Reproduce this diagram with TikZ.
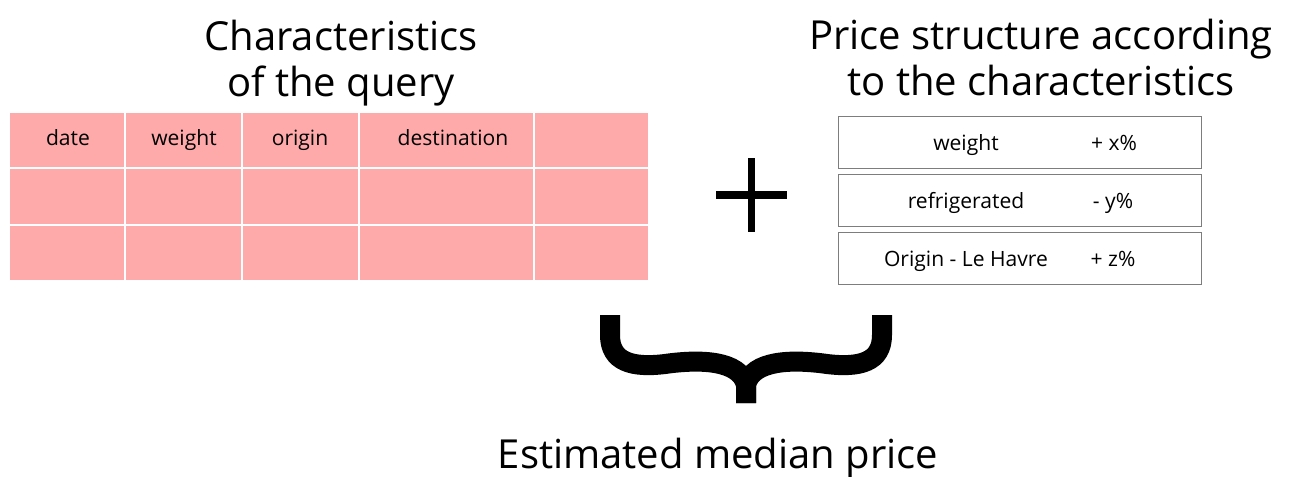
\documentclass[tikz,border=0pt]{standalone}
\usepackage{fontspec}
\setmainfont{Open Sans}
\usepackage{xcolor}
\usepackage{tikz}

\definecolor{cellpink}{RGB}{255,170,170}
\definecolor{boxgray}{RGB}{125,125,125}

\tikzset{
  bigtitle/.style={font=\fontsize{30}{34.5}\selectfont, align=center, inner sep=0pt},
  celltext/.style={font=\fontsize{15.8}{19}\selectfont, inner sep=0pt,
    text height=1.5ex, text depth=0.25ex},
  querycell/.style={fill=cellpink, inner sep=0pt, anchor=north west},
  pricebox/.style={draw=boxgray, line width=1pt, inner sep=0pt, anchor=north west,
    minimum width=272pt, minimum height=39pt}
}

\begin{document}
\begin{tikzpicture}[x=0.75pt,y=-0.75pt]
  \useasboundingbox (0,0) rectangle (1289,476);

  % Titles
  \node[bigtitle] (qtitle) at (341,63) {Characteristics\\of the query};
  \node[bigtitle] (ptitle) at (1041,57) {Price structure according\\to the characteristics};

  % Table of the query
  \foreach \xa/\xb [count=\c] in {10/124, 126/241, 243/358, 360/533, 535/648}
    \foreach \ya/\yb [count=\r] in {113/167, 169/224, 226/280}
      \node[querycell, minimum width={(\xb-\xa)*0.75pt}, minimum height={(\yb-\ya)*0.75pt}]
        (cell-\r-\c) at (\xa,\ya) {};

  \node[celltext] (hdate) at (68,141) {date};
  \node[celltext] (hweight) at (184,141) {weight};
  \node[celltext] (horigin) at (300,141) {origin};
  \node[celltext] (hdest) at (453,141) {destination};

  % Plus
  \draw[line width=5.3pt] (716,195) -- (787,195);
  \draw[line width=5.3pt] (751.5,158) -- (751.5,232);

  % Price structure
  \node[pricebox] (pweight) at (838,116) {};
  \node[pricebox] (pcold) at (838,174) {};
  \node[pricebox] (porigin) at (838,232) {};

  \node[celltext] (lweight) at (966,146) {weight};
  \node[celltext] (vweight) at (1114,146) {+ x\%};
  \node[celltext] (lcold) at (966,204) {refrigerated};
  \node[celltext] (vcold) at (1113,204) {- y\%};
  \node[celltext] (lorigin) at (966,262) {Origin - Le Havre};
  \node[celltext] (vorigin) at (1113,262) {+ z\%};

  % Brace
  \coordinate (braceL) at (610,315);
  \coordinate (braceR) at (882,315);
  \coordinate (braceTip) at (746,403);
  \draw[line width=15pt] (braceL) -- (610,335)
    .. controls (610,362) and (632,368) .. (665,364)
    .. controls (700,359) and (740,360) .. (746,385) -- (braceTip);
  \draw[line width=15pt] (braceR) -- (882,335)
    .. controls (882,362) and (860,368) .. (827,364)
    .. controls (792,359) and (752,360) .. (746,385) -- (braceTip);

  \node[bigtitle] (result) at (718,458) {Estimated median price};
\end{tikzpicture}
\end{document}
